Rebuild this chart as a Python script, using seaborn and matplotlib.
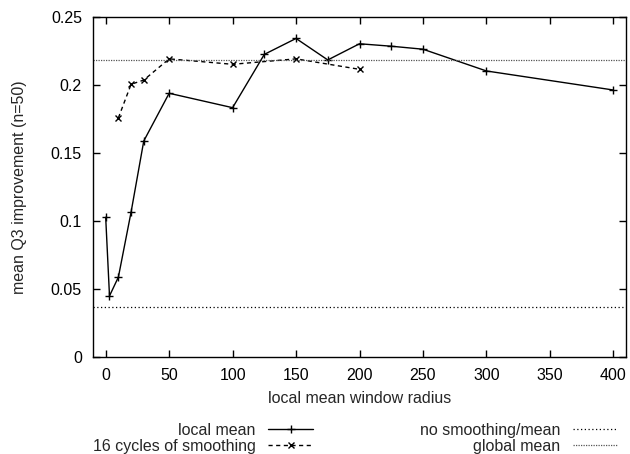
import matplotlib
matplotlib.use("Agg")
import matplotlib.pyplot as plt
import seaborn as sns
import pandas as pd

# data
local_x = [0, 3, 10, 20, 30, 50, 100, 125, 150, 175, 200, 225, 250, 300, 400]
local_y = [0.1025, 0.0447, 0.0585, 0.1063, 0.1586, 0.1937, 0.1831, 0.2223, 0.2340,
           0.2182, 0.2301, 0.2283, 0.2261, 0.2101, 0.1961]
smooth_x = [10, 20, 30, 50, 100, 150, 200]
smooth_y = [0.1756, 0.2003, 0.2034, 0.2190, 0.2150, 0.2190, 0.2113]
no_smoothing = 0.0365
global_mean = 0.2183
x_ticks = [0, 50, 100, 150, 200, 250, 300, 350, 400]
y_ticks = [0, 0.05, 0.1, 0.15, 0.2, 0.25]
y_ticklabels = ["0", "0.05", "0.1", "0.15", "0.2", "0.25"]

sns.set_style("ticks")
plt.rcParams["font.family"] = ["Liberation Sans", "DejaVu Sans"]
plt.rcParams["font.size"] = 11.5

fig = plt.figure(figsize=(6.3, 4.54), dpi=100)
ax = fig.add_axes([93 / 630, 1 - 356.7 / 454, (626 - 93) / 630, (356.7 - 16.7) / 454])

df_local = pd.DataFrame({"x": local_x, "y": local_y})
df_smooth = pd.DataFrame({"x": smooth_x, "y": smooth_y})

sns.lineplot(data=df_local, x="x", y="y", ax=ax, color="black", lw=1.0,
             marker="+", markersize=6.2, mew=1.0, markeredgecolor="black",
             label="local mean")
sns.lineplot(data=df_smooth, x="x", y="y", ax=ax, color="black", lw=1.0,
             linestyle=(0, (3, 2.5)), marker="x", markersize=5, mew=1.0,
             markeredgecolor="black", label="16 cycles of smoothing")
ax.axhline(no_smoothing, color="black", lw=0.9, linestyle=(0, (1, 2)),
           label="no smoothing/mean")
ax.axhline(global_mean, color="#555555", lw=0.9, linestyle=(0, (1, 1)),
           label="global mean")

ax.set_xlim(-10, 410)
ax.set_ylim(0, 0.25)
ax.set_xticks(x_ticks)
ax.set_yticks(y_ticks)
ax.set_yticklabels(y_ticklabels)
ax.tick_params(direction="in", top=True, right=True, length=5, width=1,
               labelsize=11.5, pad=8, colors="black")
for s in ax.spines.values():
    s.set_visible(True)
    s.set_color("black")
    s.set_linewidth(1.0)
ax.set_xlabel("local mean window radius", fontsize=11.5, labelpad=6)
ax.set_ylabel("mean Q3 improvement (n=50)", fontsize=11.5, labelpad=17)

handles, labels = ax.get_legend_handles_labels()
common = dict(markerfirst=False, frameon=False, loc="upper right",
              bbox_transform=fig.transFigure, fontsize=11.5, handlelength=2.8,
              handletextpad=0.8, labelspacing=0.05, borderaxespad=0, borderpad=0)
leg1 = ax.legend(handles[:2], labels[:2], bbox_to_anchor=(313 / 630, 1 - 423 / 454), **common)
ax.add_artist(leg1)
ax.legend(handles[2:], labels[2:], bbox_to_anchor=(618 / 630, 1 - 423 / 454), **common)

fig.savefig("out.png", dpi=100)
